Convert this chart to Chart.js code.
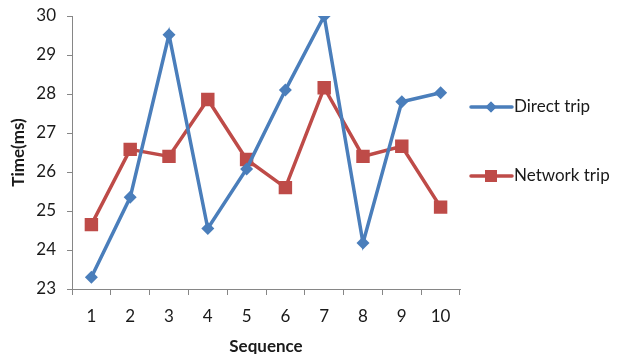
<!DOCTYPE html>
<html><head><meta charset="utf-8">
<script src="https://cdn.jsdelivr.net/npm/chart.js@4/dist/chart.umd.min.js"></script>
<style>html,body{margin:0;padding:0;background:#fff;}#wrap{width:619px;height:354px;}</style>
</head><body><div id="wrap"><canvas id="c" width="619" height="354"></canvas></div>
<script>
const categories = ['1','2','3','4','5','6','7','8','9','10'];
const directTrip = [23.3, 25.35, 29.52, 24.55, 26.08, 28.1, 30.0, 24.18, 27.8, 28.03];
const networkTrip = [24.65, 26.58, 26.4, 27.86, 26.32, 25.6, 28.16, 26.4, 26.66, 25.1];
const seriesNames = ['Direct trip', 'Network trip'];
const yTicks = [23, 24, 25, 26, 27, 28, 29, 30];

const FONT = 'Lato, "Open Sans", sans-serif';
const FS = 17;
const BLUE = '#4a7ebb', RED = '#be4b48', AXIS = '#868686', TXT = '#1a1a1a';

const legendPlugin = {
  id: 'sideLegend',
  afterDraw(chart) {
    const ctx = chart.ctx;
    const rows = [107, 176];
    chart.data.datasets.forEach((ds, i) => {
      const y = rows[i];
      ctx.save();
      ctx.strokeStyle = ds.borderColor; ctx.lineWidth = 3.5; ctx.lineCap = 'round';
      ctx.beginPath(); ctx.moveTo(471, y); ctx.lineTo(512, y); ctx.stroke();
      ctx.fillStyle = ds.backgroundColor;
      Chart.helpers.drawPoint(ctx, {pointStyle: ds.pointStyle, rotation: 0, borderWidth: 0,
        radius: i === 0 ? 5.5 : 8.5}, 491, y);
      ctx.fill();
      ctx.fillStyle = TXT; ctx.font = FS + 'px ' + FONT; ctx.textBaseline = 'middle'; ctx.textAlign = 'left';
      ctx.fillText(ds.label, 514, y);
      ctx.restore();
    });
  }
};

new Chart(document.getElementById('c'), {
  type: 'line',
  data: {
    labels: categories,
    datasets: [
      { label: seriesNames[0], data: directTrip, borderColor: BLUE, backgroundColor: BLUE,
        borderWidth: 3.5, pointStyle: 'rectRot', pointRadius: 6.5, pointBorderWidth: 0, tension: 0 },
      { label: seriesNames[1], data: networkTrip, borderColor: RED, backgroundColor: RED,
        borderWidth: 3.5, pointStyle: 'rect', pointRadius: 9.5, pointBorderWidth: 0, tension: 0 }
    ]
  },
  options: {
    responsive: false, animation: false,
    layout: { padding: { left: 0, right: 159, top: 16, bottom: 0 } },
    plugins: { legend: { display: false }, tooltip: { enabled: false } },
    scales: {
      x: {
        offset: true,
        grid: { offset: true, drawOnChartArea: false, drawTicks: true, tickLength: 6, color: AXIS, lineWidth: 1 },
        border: { color: AXIS, width: 1 },
        ticks: { color: TXT, font: { family: FONT, size: FS }, padding: 11, maxRotation: 0 },
        title: { display: true, text: 'Sequence', color: TXT, font: { family: FONT, size: FS, weight: 'bold', lineHeight: 1 }, padding: { top: 4, bottom: -1 } },
        afterFit(s) { s.height = 65; }
      },
      y: {
        min: 23, max: 30,
        afterBuildTicks(s) { s.ticks = yTicks.map(v => ({ value: v })); },
        grid: { drawOnChartArea: false, drawTicks: true, tickLength: 5, color: AXIS, lineWidth: 1 },
        border: { color: AXIS, width: 1 },
        ticks: { color: TXT, font: { family: FONT, size: FS }, padding: 11 },
        title: { display: true, text: 'Time(ms)', color: TXT, font: { family: FONT, size: FS, weight: 'bold' }, padding: { top: 8, bottom: 4 } },
        afterFit(s) { s.width = 72; s.paddingTop = 0; s.paddingBottom = 0; }
      }
    }
  },
  plugins: [legendPlugin]
});
</script></body></html>
